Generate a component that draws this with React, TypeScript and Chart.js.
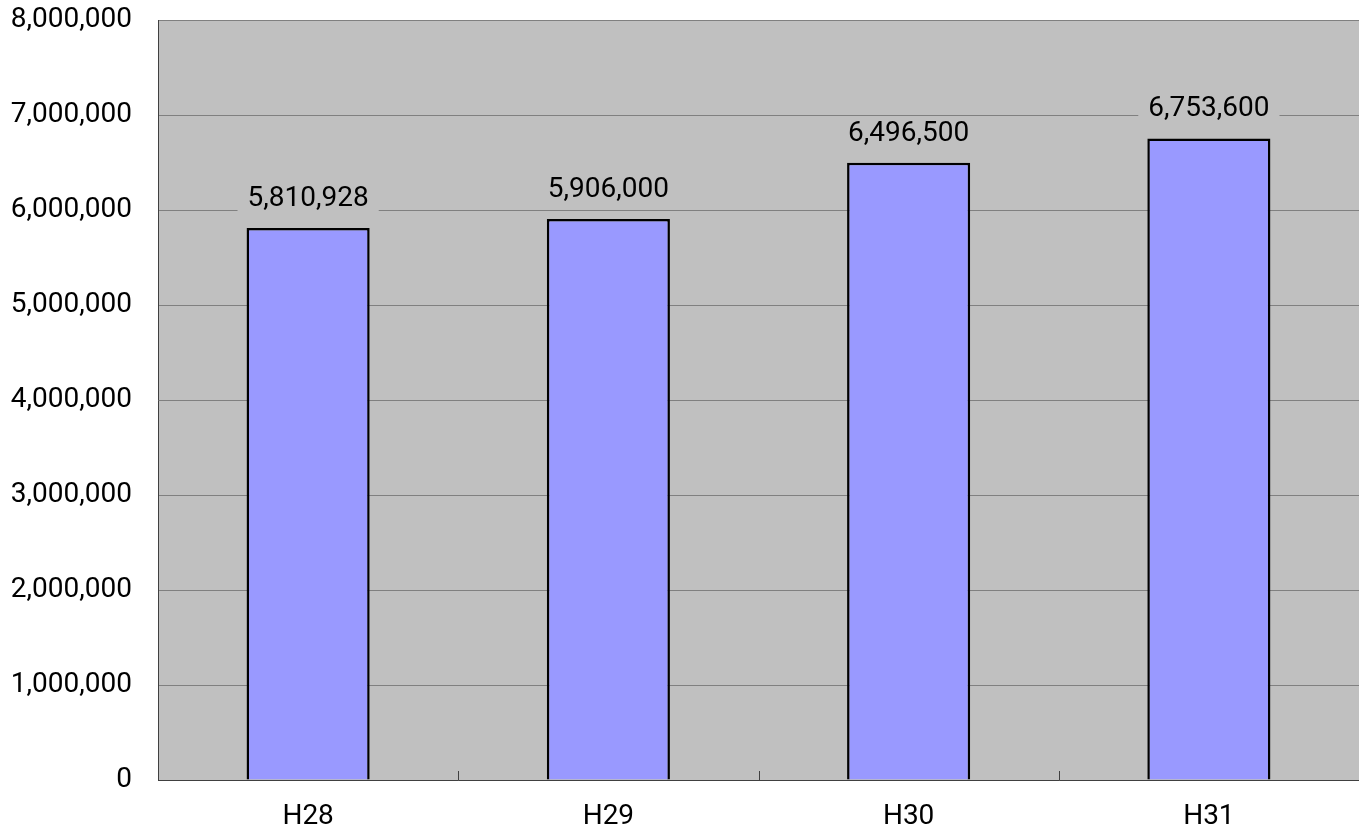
import React, { useEffect, useRef } from "react";
import { Chart, registerables } from "chart.js";

Chart.register(...registerables);

const categories = ["H28", "H29", "H30", "H31"];
const values = [5810928, 5906000, 6496500, 6753600];
const yTicks = [0, 1000000, 2000000, 3000000, 4000000, 5000000, 6000000, 7000000, 8000000];

const FONT = "Roboto, 'Noto Sans CJK JP', sans-serif";
const fmt = (v: number) => v.toLocaleString("en-US");

const bgPlugin = {
  id: "plotBg",
  beforeDraw(chart: any) {
    const { ctx, chartArea: a } = chart;
    ctx.save();
    ctx.fillStyle = "#c0c0c0";
    ctx.fillRect(a.left, a.top, a.right - a.left, a.bottom - a.top);
    ctx.restore();
  },
  afterDatasetsDraw(chart: any) {
    const { ctx, chartArea: a } = chart;
    const xs = chart.scales.x;
    ctx.save();
    ctx.strokeStyle = "#404040";
    ctx.lineWidth = 1;
    for (let i = 1; i < categories.length; i++) {
      const x = Math.round((xs.getPixelForValue(i - 1) + xs.getPixelForValue(i)) / 2) + 0.5;
      ctx.beginPath();
      ctx.moveTo(x, a.bottom);
      ctx.lineTo(x, a.bottom - 9);
      ctx.stroke();
    }
    const meta = chart.getDatasetMeta(0);
    ctx.font = `28px ${FONT}`;
    ctx.textAlign = "center";
    ctx.textBaseline = "middle";
    meta.data.forEach((bar: any, i: number) => {
      const txt = fmt(values[i]);
      const w = ctx.measureText(txt).width;
      const cy = bar.y - 29;
      ctx.fillStyle = "#c0c0c0";
      ctx.fillRect(bar.x - w / 2 - 10, cy - 16, w + 20, 32);
      ctx.fillStyle = "#000000";
      ctx.fillText(txt, bar.x, cy);
    });
    ctx.restore();
  },
};

export default function App() {
  const ref = useRef<HTMLCanvasElement | null>(null);
  useEffect(() => {
    if (!ref.current) return;
    const chart = new Chart(ref.current, {
      type: "bar",
      data: {
        labels: categories,
        datasets: [
          {
            data: values,
            backgroundColor: "#9999ff",
            borderColor: "#000000",
            borderWidth: 2.5,
            barPercentage: 0.41,
            categoryPercentage: 1,
          },
        ],
      },
      options: {
        responsive: false,
        animation: false,
        devicePixelRatio: 1,
        layout: { padding: { top: 20, right: 0, left: 0, bottom: 0 } },
        plugins: { legend: { display: false }, tooltip: { enabled: false } },
        scales: {
          x: {
            grid: { display: false },
            border: { display: true, color: "#404040", width: 1 },
            ticks: { font: { family: FONT, size: 28 }, color: "#000", padding: 12 },
            afterFit(scale: any) {
              scale.height = 50;
              scale.paddingLeft = 0;
              scale.paddingRight = 0;
            },
          },
          y: {
            min: 0,
            max: 8000000,
            afterBuildTicks(scale: any) {
              scale.ticks = yTicks.map((v) => ({ value: v }));
            },
            grid: { color: "#808080", lineWidth: 1, drawTicks: false },
            border: { display: true, color: "#404040", width: 1 },
            ticks: {
              font: { family: FONT, size: 28 },
              color: "#000",
              padding: 26,
              callback: (v: any) => fmt(Number(v)),
            },
            afterFit(scale: any) {
              scale.width = 158;
              scale.paddingTop = 0;
              scale.paddingBottom = 0;
            },
          },
        },
      },
      plugins: [bgPlugin],
    });
    return () => chart.destroy();
  }, []);
  return (
    <div style={{ position: "fixed", left: 0, top: 0, width: 1359, height: 830, background: "#fff" }}>
      <canvas ref={ref} width={1359} height={830} />
    </div>
  );
}
